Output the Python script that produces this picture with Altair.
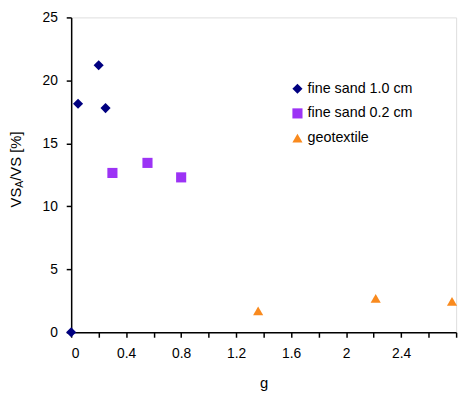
import altair as alt
import pandas as pd

series_names = ["fine sand 1.0 cm", "fine sand 0.2 cm", "geotextile"]
sand10_g = [0.0, 0.05, 0.2, 0.25]
sand10_v = [0.0, 18.15, 21.2, 17.8]
sand02_g = [0.30, 0.555, 0.80]
sand02_v = [12.65, 13.45, 12.3]
geo_g = [1.36, 2.215, 2.77]
geo_v = [1.7, 2.7, 2.45]

x_ticks = [0, 0.2, 0.4, 0.6, 0.8, 1.0, 1.2, 1.4, 1.6, 1.8, 2.0, 2.2, 2.4, 2.6, 2.8]
y_ticks = [0, 5, 10, 15, 20, 25]

colors = ["#000080", "#9C33F5", "#F98A1E"]
shapes = ["diamond", "square", "triangle-up"]

rows = []
for n, gs, vs in zip(series_names, [sand10_g, sand02_g, geo_g], [sand10_v, sand02_v, geo_v]):
    for g, v in zip(gs, vs):
        rows.append({"series": n, "g": g, "v": v})
df = pd.DataFrame(rows)

FONT = "Liberation Sans"
W, H = 390, 319

points = alt.Chart(df).mark_point(filled=True, opacity=1, size=105).encode(
    x=alt.X("g:Q", scale=alt.Scale(domain=[0, 2.8], nice=False, zero=False),
            axis=alt.Axis(values=x_ticks, grid=False, domainColor="black", domainWidth=1.5,
                          tickColor="black", tickWidth=1.5, tickSize=5,
                          labelExpr="round(datum.value*10) % 4 == 0 && datum.value < 2.7 ? toString(round(datum.value*10)/10) : ''",
                          labelFont=FONT, labelFontSize=14, labelColor="black", labelPadding=10,
                          title="g", titleFont=FONT, titleFontSize=15, titleFontWeight="normal",
                          titleColor="black", titlePadding=15)),
    y=alt.Y("v:Q", scale=alt.Scale(domain=[0, 25], nice=False),
            axis=alt.Axis(values=y_ticks, grid=False, domainColor="black", domainWidth=1.5,
                          tickColor="black", tickWidth=1.5, tickSize=5,
                          labelFont=FONT, labelFontSize=14, labelColor="black", labelPadding=9,
                          title=None)),
    color=alt.Color("series:N", scale=alt.Scale(domain=series_names, range=colors),
                    legend=alt.Legend(title=None, orient="none", legendX=222, legendY=65,
                                      labelFont=FONT, labelFontSize=14.5, labelColor="black",
                                      symbolSize=105, rowPadding=10, labelOffset=3, padding=0,
                                      symbolStrokeWidth=0)),
    shape=alt.Shape("series:N", scale=alt.Scale(domain=series_names, range=shapes)),
)

# y-axis title with subscript, drawn as rotated text pieces
t1 = alt.Chart(pd.DataFrame({"t": ["VS"]})).mark_text(
    angle=270, align="left", baseline="middle", font=FONT, fontSize=15, color="black"
).encode(text="t:N", x=alt.value(-56), y=alt.value(192.5))
t2 = alt.Chart(pd.DataFrame({"t": ["A"]})).mark_text(
    angle=270, align="left", baseline="middle", font=FONT, fontSize=10.5, color="black"
).encode(text="t:N", x=alt.value(-52), y=alt.value(172.5))
t3 = alt.Chart(pd.DataFrame({"t": ["/VS [%]"]})).mark_text(
    angle=270, align="left", baseline="middle", font=FONT, fontSize=15, color="black"
).encode(text="t:N", x=alt.value(-56), y=alt.value(165.5))

chart = alt.layer(points, t1, t2, t3).properties(
    width=W, height=H,
    autosize=alt.AutoSizeParams(type="none"),
    padding={"left": 64, "top": 7, "right": 10, "bottom": 62},
).configure_view(stroke=None).configure(background="white")

chart.save("out.html", embed_options={"renderer": "svg", "actions": False})
